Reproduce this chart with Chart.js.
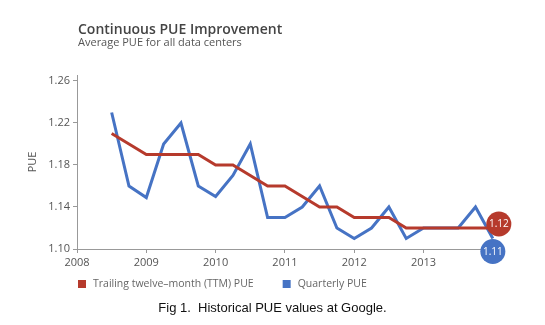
<!DOCTYPE html>
<html>
<head>
<meta charset="utf-8">
<script src="https://cdn.jsdelivr.net/npm/chart.js@4"></script>
<style>
  body { margin: 0; background: #fff; }
  #wrap { position: relative; width: 545px; height: 325px; }
  #caption {
    position: absolute; left: 0; width: 545px; top: 300px;
    text-align: center; font: 13px "Liberation Sans", Arial, sans-serif; color: #111;
    white-space: pre;
  }
</style>
</head>
<body>
<div id="wrap">
  <canvas id="pueChart" width="545" height="325"></canvas>
  <div id="caption">Fig 1.  Historical PUE values at Google.</div>
</div>
<script>
// quarters (decimal year) and PUE values
const quarters = [2008.5, 2008.75, 2009, 2009.25, 2009.5, 2009.75, 2010, 2010.25, 2010.5, 2010.75,
                  2011, 2011.25, 2011.5, 2011.75, 2012, 2012.25, 2012.5, 2012.75, 2013, 2013.25,
                  2013.5, 2013.75, 2014];
const ttmPue = [1.21, 1.20, 1.19, 1.19, 1.19, 1.19, 1.18, 1.18, 1.17, 1.16,
                1.16, 1.15, 1.14, 1.14, 1.13, 1.13, 1.13, 1.12, 1.12, 1.12,
                1.12, 1.12, 1.12];
const quarterlyPue = [1.23, 1.16, 1.149, 1.20, 1.22, 1.16, 1.15, 1.17, 1.20, 1.13,
                      1.13, 1.14, 1.16, 1.12, 1.11, 1.12, 1.14, 1.11, 1.12, 1.12,
                      1.12, 1.14, 1.11];
const yearTicks = [2008, 2009, 2010, 2011, 2012, 2013];
const pueTicks = [1.10, 1.14, 1.18, 1.22, 1.26];
const seriesNames = ['Trailing twelve\u2013month (TTM) PUE', 'Quarterly PUE'];
const seriesColors = ['#b63a2c', '#4673c4'];

const font = '"Open Sans", "Noto Sans", sans-serif';

function toPoints(vals) {
    return quarters.map((q, i) => ({ x: q, y: vals[i] }));
}

// title, subtitle and legend drawn on the canvas
const decorations = {
    id: 'decorations',
    afterDraw(chart) {
        const ctx = chart.ctx;
        ctx.save();
        ctx.textBaseline = 'alphabetic';
        ctx.fillStyle = '#444';
        ctx.font = '600 14px ' + font;
        ctx.fillText('Continuous PUE Improvement', 78, 34);
        ctx.fillStyle = '#555';
        ctx.font = '11px ' + font;
        ctx.fillText('Average PUE for all data centers', 78, 46);

        // legend
        ctx.font = '10.5px ' + font;
        ctx.textBaseline = 'middle';
        let x = 78;
        chart.data.datasets.forEach((ds) => {
            ctx.fillStyle = ds.borderColor;
            ctx.fillRect(x, 280, 8, 8);
            ctx.fillStyle = '#666';
            ctx.fillText(ds.label, x + 15, 284.5);
            x += 15 + ctx.measureText(ds.label).width + 29;
        });
        ctx.restore();
    }
};

// value bubbles at the end of each line
const endLabels = {
    id: 'endLabels',
    afterDatasetsDraw(chart) {
        const ctx = chart.ctx;
        const offsets = [[6, -4], [0, 13]];
        ctx.save();
        chart.data.datasets.forEach((ds, i) => {
            const pts = chart.getDatasetMeta(i).data;
            const last = pts[pts.length - 1];
            const cx = last.x + offsets[i][0];
            const cy = last.y + offsets[i][1];
            ctx.beginPath();
            ctx.arc(cx, cy, 12.5, 0, Math.PI * 2);
            ctx.fillStyle = ds.borderColor;
            ctx.fill();
            ctx.fillStyle = '#fff';
            ctx.font = '10px ' + font;
            ctx.textAlign = 'center';
            ctx.textBaseline = 'middle';
            ctx.fillText(ds.data[ds.data.length - 1].y.toFixed(2), cx, cy + 0.5);
        });
        ctx.restore();
    }
};

const ctx = document.getElementById('pueChart').getContext('2d');
const pueChart = new Chart(ctx, {
    type: 'line',
    data: {
        datasets: [
            { label: seriesNames[0], data: toPoints(ttmPue), borderColor: seriesColors[0], borderWidth: 3, pointRadius: 0, tension: 0 },
            { label: seriesNames[1], data: toPoints(quarterlyPue), borderColor: seriesColors[1], borderWidth: 3, pointRadius: 0, tension: 0 }
        ]
    },
    options: {
        responsive: false,
        animation: false,
        layout: { padding: { top: 75, right: 48, bottom: 56, left: 0 } },
        plugins: { legend: { display: false }, tooltip: { enabled: false } },
        scales: {
            x: {
                type: 'linear',
                min: 2008,
                max: 2014.06,
                afterBuildTicks: (scale) => { scale.ticks = yearTicks.map(v => ({ value: v })); },
                afterFit: (scale) => { scale.height = 20; },
                border: { display: true, color: '#999', width: 1 },
                grid: { drawOnChartArea: false, drawTicks: true, tickLength: 4, color: '#999' },
                ticks: { font: { family: font, size: 11 }, color: '#555', padding: 3, maxRotation: 0,
                         callback: (v) => String(v) }
            },
            y: {
                min: 1.10,
                max: 1.2657,
                afterBuildTicks: (scale) => { scale.ticks = pueTicks.map(v => ({ value: v })); },
                afterFit: (scale) => { scale.width = 77; },
                border: { display: true, color: '#999', width: 1 },
                grid: { drawOnChartArea: false, drawTicks: true, tickLength: 4, color: '#999' },
                ticks: { font: { family: font, size: 11 }, color: '#555', padding: 3,
                         callback: (v) => v.toFixed(2) },
                title: { display: true, text: 'PUE', font: { family: font, size: 11 }, color: '#555',
                         padding: { top: 26, bottom: 0 } }
            }
        }
    },
    plugins: [decorations, endLabels]
});
</script>
</body>
</html>
